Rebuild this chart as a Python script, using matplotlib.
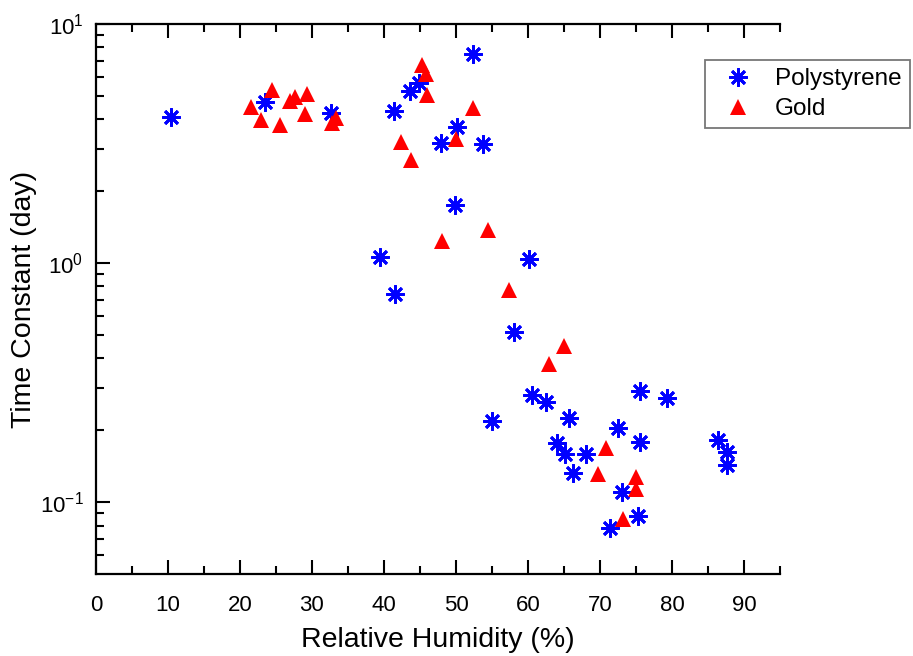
import matplotlib

matplotlib.use("Agg")
import matplotlib.pyplot as plt
from matplotlib.ticker import LogLocator, MultipleLocator, NullFormatter

plt.rcParams["font.family"] = ["Liberation Sans", "DejaVu Sans"]

# Polystyrene series
ps_rh = [10.4, 23.5, 32.6, 41.4, 43.6, 44.8, 52.4, 50.1, 47.9, 53.8, 49.9,
         39.5, 41.6, 60.1, 58.0, 60.6, 62.5, 55.0, 65.7, 75.5, 79.3, 72.5,
         75.6, 64.1, 65.2, 68.0, 66.3, 73.1, 75.3, 71.4, 86.4, 87.6, 87.6]
ps_tau = [4.09, 4.73, 4.25, 4.32, 5.26, 5.65, 7.46, 3.72, 3.17, 3.15, 1.75,
          1.06, 0.742, 1.04, 0.516, 0.280, 0.263, 0.220, 0.225, 0.291, 0.272,
          0.205, 0.179, 0.177, 0.159, 0.159, 0.133, 0.111, 0.0877, 0.0784,
          0.183, 0.162, 0.144]

# Gold series
au_rh = [21.5, 24.4, 22.9, 25.5, 26.9, 27.7, 29.3, 29.0, 32.8, 33.3, 45.3,
         45.9, 46.0, 42.3, 43.8, 50.0, 52.3, 48.0, 54.4, 57.4, 65.0, 62.9,
         70.8, 69.7, 75.0, 75.0, 73.2]
au_tau = [4.48, 5.29, 3.97, 3.78, 4.78, 4.94, 5.10, 4.20, 3.84, 4.06, 6.73,
          6.18, 5.05, 3.20, 2.70, 3.29, 4.44, 1.24, 1.38, 0.771, 0.451, 0.380,
          0.169, 0.131, 0.128, 0.114, 0.0855]

fig = plt.figure(figsize=(9.13, 6.56), dpi=100)
ax = fig.add_axes([0.1051, 0.125, 0.7492, 0.8384])

ax.plot(ps_rh, ps_tau, linestyle="none", marker=(8, 2, 0), markersize=13,
        markeredgewidth=2.0, color="#0000ff", label="Polystyrene")
ax.plot(au_rh, au_tau, linestyle="none", marker="^", markersize=11,
        markeredgewidth=0, color="#ff0000", label="Gold")

ax.set_yscale("log")
ax.set_xlim(0, 95)
ax.set_ylim(0.0502, 10)
ax.xaxis.set_major_locator(MultipleLocator(10))
ax.xaxis.set_minor_locator(MultipleLocator(5))
ax.yaxis.set_major_locator(LogLocator(base=10))
ax.yaxis.set_minor_locator(LogLocator(base=10, subs=range(2, 10)))
ax.yaxis.set_minor_formatter(NullFormatter())

ax.spines["right"].set_visible(False)
for s in ("left", "bottom", "top"):
    ax.spines[s].set_linewidth(1.6)

ax.tick_params(which="both", direction="in", top=True, right=False, width=1.5)
ax.tick_params(which="major", length=10)
ax.tick_params(which="minor", length=5.5)
ax.tick_params(axis="x", labelsize=16, pad=15)
ax.tick_params(axis="y", labelsize=16, pad=9)

ax.set_xlabel("Relative Humidity (%)", fontsize=20.5, labelpad=8)
ax.set_ylabel("Time Constant (day)", fontsize=20.5, labelpad=2)

leg = ax.legend(loc="upper left", bbox_to_anchor=(705 / 913, 1 - 60 / 656),
                bbox_transform=fig.transFigure, borderaxespad=0, fontsize=17.5,
                frameon=True, fancybox=False, borderpad=0.33, handlelength=2.06,
                handletextpad=0.5, labelspacing=0.33)
leg.get_frame().set_edgecolor("#555555")
leg.get_frame().set_linewidth(1.3)

fig.savefig("out.png", dpi=100)
plt.close(fig)
